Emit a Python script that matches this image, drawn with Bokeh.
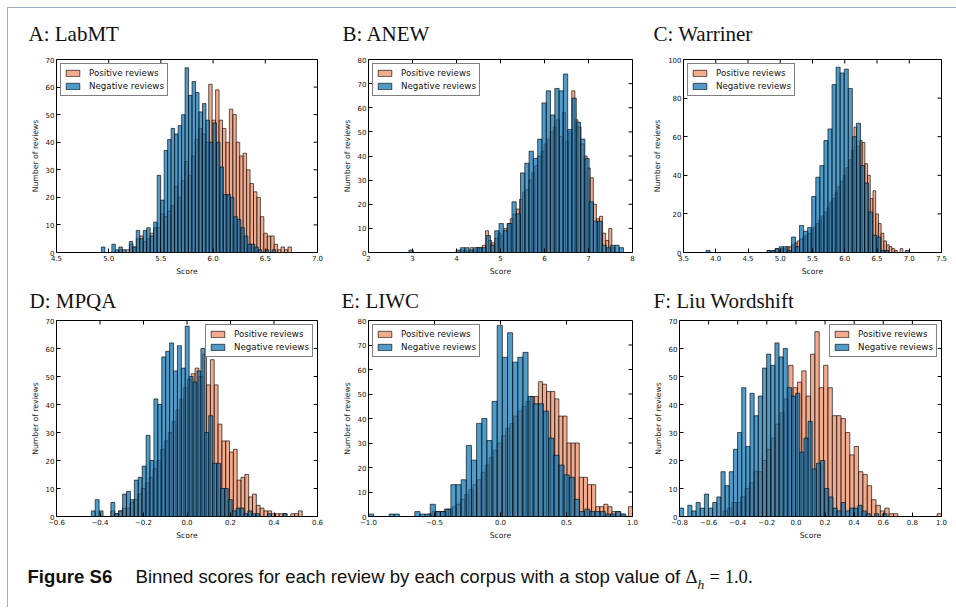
import numpy as np
from bokeh.plotting import figure
from bokeh.models import FixedTicker, Range1d, Label
from bokeh.layouts import row, column
from bokeh.embed import file_html
from bokeh.resources import INLINE

# ---------------- data ----------------
labmt_pos_range = [5.10, 6.75]
labmt_pos = [1, 0, 1, 3, 2, 5, 6, 4, 5, 7, 9, 9, 14, 13, 15, 17, 24, 20, 26, 33, 28, 35, 41, 45, 43,
             40, 61, 48, 59, 48, 45, 40, 52, 50, 40, 35, 36, 30, 25, 22, 20, 13, 7, 6, 6, 3, 1, 2, 1, 2]
labmt_neg_range = [4.93, 6.60]
labmt_neg = [2, 0, 0, 3, 1, 2, 1, 0, 4, 2, 8, 5, 8, 9, 6, 11, 28, 19, 37, 41, 45, 43, 46, 50, 67,
             57, 62, 58, 51, 54, 48, 40, 47, 40, 31, 21, 21, 20, 13, 12, 9, 6, 3, 3, 2, 1, 0, 1, 0, 1]

anew_pos_range = [4.10, 7.60]
anew_pos = [1, 1, 0, 2, 1, 2, 2, 3, 9, 5, 4, 6, 8, 7, 10, 12, 14, 16, 18, 22, 25, 26, 30, 33, 36,
            40, 42, 45, 47, 50, 52, 55, 48, 58, 46, 50, 67, 55, 52, 45, 40, 35, 31, 20, 14, 15, 8, 5, 10, 2]
anew_neg_range = [2.92, 7.795]
anew_neg = [1, 0, 0, 0, 0, 0, 0, 0, 0, 0, 0, 1, 2, 2, 1, 2, 2, 2, 7, 3, 9, 12, 9, 12, 21,
            16, 33, 37, 42, 39, 47, 62, 67, 57, 68, 67, 74, 51, 64, 54, 47, 39, 21, 13, 13, 3, 2, 3, 3, 2]

warriner_pos_range = [4.80, 6.90]
warriner_pos = [1, 0, 1, 2, 1, 2, 2, 3, 3, 4, 5, 6, 7, 8, 9, 10, 12, 13, 15, 17, 19, 21, 23, 26, 28,
                31, 34, 37, 40, 44, 48, 53, 65, 55, 58, 57, 46, 40, 28, 32, 20, 15, 10, 6, 4, 3, 2, 1, 0, 2]
warriner_neg_range = [3.85, 7.00]
warriner_neg = [1, 0, 0, 0, 0, 0, 0, 0, 0, 0, 0, 0, 0, 0, 0, 1, 1, 2, 3, 3, 1, 8, 3, 14, 11,
                13, 29, 39, 45, 58, 64, 87, 96, 93, 95, 85, 60, 67, 45, 36, 21, 9, 8, 1, 1, 0, 0, 0, 0, 1]

mpqa_pos_range = [-0.35, 0.53]
mpqa_pos = [2, 1, 2, 3, 3, 5, 6, 8, 10, 12, 14, 17, 20, 24, 27, 30, 34, 38, 42, 46, 49, 51, 53, 50, 58,
            47, 56, 47, 33, 27, 27, 23, 24, 13, 14, 15, 7, 8, 4, 3, 2, 2, 1, 1, 1, 1, 0, 1, 1, 2]
mpqa_neg_range = [-0.44, 0.46]
mpqa_neg = [2, 6, 2, 0, 0, 5, 1, 2, 8, 9, 6, 13, 14, 18, 29, 20, 42, 40, 57, 59, 62, 52, 61, 53, 68,
            50, 48, 52, 60, 30, 36, 19, 19, 10, 10, 6, 2, 3, 3, 1, 2, 1, 1, 0, 0, 1, 0, 0, 0, 1]

liwc_pos_range = [-0.55, 1.00]
liwc_pos = [1, 2, 2, 2, 3, 3, 4, 5, 7, 9, 11, 13, 15, 18, 21, 24, 27, 30, 33, 36, 38, 41, 43, 45, 47,
            49, 49, 55, 54, 51, 51, 48, 41, 41, 30, 30, 30, 16, 16, 13, 13, 4, 4, 5, 4, 2, 2, 1, 0, 4]
liwc_neg_range = [-1.00, 0.95]
liwc_neg = [1, 0, 0, 0, 1, 1, 0, 0, 0, 2, 1, 1, 5, 2, 2, 3, 13, 13, 15, 29, 23, 38, 40, 31, 47,
            78, 65, 75, 63, 65, 67, 49, 46, 46, 43, 32, 25, 21, 17, 16, 7, 2, 3, 2, 2, 2, 1, 1, 2, 1]

liu_pos_range = [-0.50, 1.00]
liu_pos = [2, 3, 5, 5, 7, 10, 12, 16, 16, 20, 24, 28, 33, 37, 42, 54, 46, 48, 52, 43, 58, 66, 46, 54, 46,
           36, 36, 35, 30, 22, 25, 16, 15, 11, 6, 4, 2, 3, 1, 1, 0, 0, 0, 0, 0, 0, 0, 0, 0, 1]
liu_neg_range = [-0.80, 0.625]
liu_neg = [3, 0, 4, 2, 5, 3, 8, 3, 5, 7, 16, 11, 16, 24, 30, 46, 25, 44, 36, 43, 53, 58, 54, 62, 57,
           60, 46, 43, 44, 23, 28, 34, 17, 19, 20, 10, 7, 3, 2, 5, 2, 3, 3, 4, 2, 1, 0, 1, 0, 1]

titles = ["A: LabMT", "B: ANEW", "C: Warriner", "D: MPQA", "E: LIWC", "F: Liu Wordshift"]
series_labels = ["Positive reviews", "Negative reviews"]
x_label = "Score"
y_label = "Number of reviews"

labmt_xticks = [4.5, 5.0, 5.5, 6.0, 6.5, 7.0]
labmt_xlabels = ["4.5", "5.0", "5.5", "6.0", "6.5", "7.0"]
anew_xticks = [2, 3, 4, 5, 6, 7, 8]
anew_xlabels = ["2", "3", "4", "5", "6", "7", "8"]
warriner_xticks = [3.5, 4.0, 4.5, 5.0, 5.5, 6.0, 6.5, 7.0, 7.5]
warriner_xlabels = ["3.5", "4.0", "4.5", "5.0", "5.5", "6.0", "6.5", "7.0", "7.5"]
mpqa_xticks = [-0.6, -0.4, -0.2, 0.0, 0.2, 0.4, 0.6]
mpqa_xlabels = ["\u22120.6", "\u22120.4", "\u22120.2", "0.0", "0.2", "0.4", "0.6"]
liwc_xticks = [-1.0, -0.5, 0.0, 0.5, 1.0]
liwc_xlabels = ["\u22121.0", "\u22120.5", "0.0", "0.5", "1.0"]
liu_xticks = [-0.8, -0.6, -0.4, -0.2, 0.0, 0.2, 0.4, 0.6, 0.8, 1.0]
liu_xlabels = ["\u22120.8", "\u22120.6", "\u22120.4", "\u22120.2", "0.0", "0.2", "0.4", "0.6", "0.8", "1.0"]

yticks_70 = [0, 10, 20, 30, 40, 50, 60, 70]
yticks_80 = [0, 10, 20, 30, 40, 50, 60, 70, 80]
yticks_100 = [0, 20, 40, 60, 80, 100]

caption_bold = "Figure S6"
caption_text = "Binned scores for each review by each corpus with a stop value of"
caption_math = ["\u0394", "h", "= 1.0."]

# ---------------- styling ----------------
POS_COLOR = "#ef8a62"
NEG_COLOR = "#0571b0"
TICK_FONT = "DejaVu Sans"
SERIF = "Liberation Serif"
TICK_LEN = 4  # px
FULL_W = 948


def blank_strip(width, height):
    """An empty SVG canvas whose data units equal pixels (for panel titles and caption)."""
    s = figure(width=width, height=height, output_backend="svg", toolbar_location=None,
               title_location=None, x_axis_location=None, y_axis_location=None,
               x_range=Range1d(0, width), y_range=Range1d(0, height), min_border=0)
    s.outline_line_color = None
    s.xgrid.visible = False
    s.ygrid.visible = False
    s.background_fill_color = "white"
    s.border_fill_color = "white"
    return s


def style_axis(ax, ticks, labels=None):
    ax.ticker = FixedTicker(ticks=ticks)
    ax.major_tick_in = TICK_LEN
    ax.major_tick_out = 0
    ax.minor_tick_in = 0
    ax.minor_tick_out = 0
    ax.major_tick_line_color = "black"
    ax.major_tick_line_width = 1
    ax.axis_line_color = None
    ax.major_label_text_font = TICK_FONT
    ax.major_label_text_color = "#111111"
    if labels is not None:
        ax.major_label_overrides = {t: l for t, l in zip(ticks, labels)}
    ax.major_label_text_font_size = "7px"
    ax.major_label_standoff = 2
    ax.axis_label_text_font = TICK_FONT
    ax.axis_label_text_font_size = "7.7px"
    ax.axis_label_text_font_style = "normal"
    ax.axis_label_text_color = "#222222"
    ax.axis_label_standoff = 3


def panel(pos, pos_rng, neg, neg_rng, xr, yr, xticks, xlabels, yticks, legend_loc,
          width, height, mbl, mbr, mbt, mbb):
    p = figure(width=width, height=height, output_backend="svg", toolbar_location=None,
               title_location=None,
               x_range=Range1d(*xr), y_range=Range1d(*yr),
               min_border_left=mbl, min_border_right=mbr,
               min_border_top=mbt, min_border_bottom=mbb)
    p.outline_line_color = "black"
    p.outline_line_width = 1
    p.xgrid.visible = False
    p.ygrid.visible = False
    p.background_fill_color = "white"
    p.border_fill_color = "white"

    pe = np.linspace(pos_rng[0], pos_rng[1], len(pos) + 1)
    ne = np.linspace(neg_rng[0], neg_rng[1], len(neg) + 1)
    p.quad(left=pe[:-1], right=pe[1:], bottom=0, top=pos, fill_color=POS_COLOR,
           fill_alpha=0.72, line_color="black", line_alpha=0.7, line_width=0.9,
           legend_label=series_labels[0])
    p.quad(left=ne[:-1], right=ne[1:], bottom=0, top=neg, fill_color=NEG_COLOR,
           fill_alpha=0.7, line_color="black", line_alpha=0.7, line_width=0.9,
           legend_label=series_labels[1])

    style_axis(p.xaxis[0], xticks, xlabels)
    style_axis(p.yaxis[0], yticks)
    p.xaxis[0].axis_label = x_label
    p.yaxis[0].axis_label = y_label

    # inward ticks on the top and right frame edges (matplotlib classic style)
    frame_w = width - mbl - mbr
    frame_h = height - mbt - mbb
    dy = (yr[1] - yr[0]) * TICK_LEN / frame_h
    dx = (xr[1] - xr[0]) * TICK_LEN / frame_w
    xt = np.array(xticks, dtype=float)
    yt = np.array(yticks, dtype=float)
    p.segment(x0=xt, x1=xt, y0=np.full(len(xt), yr[1]), y1=np.full(len(xt), yr[1] - dy),
              line_color="black", line_width=1)
    p.segment(x0=np.full(len(yt), xr[1]), x1=np.full(len(yt), xr[1] - dx), y0=yt, y1=yt,
              line_color="black", line_width=1)

    lg = p.legend[0]
    lg.location = legend_loc
    lg.label_text_font = TICK_FONT
    lg.label_text_font_size = "8.7px"
    lg.label_text_color = "#111111"
    lg.border_line_color = "black"
    lg.border_line_width = 1
    lg.background_fill_alpha = 1.0
    lg.margin = 4
    lg.padding = 3
    lg.spacing = 1
    lg.glyph_width = 17
    lg.glyph_height = 8
    lg.label_height = 12
    lg.label_standoff = 8
    return p


def title_strip(height, names, xs, base):
    s = blank_strip(FULL_W, height)
    for name, x in zip(names, xs):
        s.add_layout(Label(x=x, y=base, text=name, text_font=SERIF, text_font_size="21px",
                           text_color="#111111", text_baseline="alphabetic", text_align="left"))
    return s


pA = panel(labmt_pos, labmt_pos_range, labmt_neg, labmt_neg_range, (4.5, 7.0), (0, 70),
           labmt_xticks, labmt_xlabels, yticks_70, "top_left", 322, 235, 48, 13, 7, 33)
pB = panel(anew_pos, anew_pos_range, anew_neg, anew_neg_range, (2, 8), (0, 80),
           anew_xticks, anew_xlabels, yticks_80, "top_left", 315, 235, 38, 13, 3, 33)
pC = panel(warriner_pos, warriner_pos_range, warriner_neg, warriner_neg_range, (3.5, 7.5), (0, 100),
           warriner_xticks, warriner_xlabels, yticks_100, "top_left", 311, 235, 38, 15, 9, 33)
pD = panel(mpqa_pos, mpqa_pos_range, mpqa_neg, mpqa_neg_range, (-0.6, 0.6), (0, 70),
           mpqa_xticks, mpqa_xlabels, yticks_70, "top_right", 322, 245, 48, 13, 5, 44)
pE = panel(liwc_pos, liwc_pos_range, liwc_neg, liwc_neg_range, (-1.0, 1.0), (0, 80),
           liwc_xticks, liwc_xlabels, yticks_80, "top_left", 315, 245, 38, 13, 5, 44)
pF = panel(liu_pos, liu_pos_range, liu_neg, liu_neg_range, (-0.8, 1.0), (0, 70),
           liu_xticks, liu_xlabels, yticks_70, "top_right", 311, 245, 34, 15, 5, 44)

titles_top = title_strip(42, titles[:3], [20, 334, 645], 17)
titles_bottom = title_strip(30, titles[3:], [21, 333, 645], 15)

# caption strip (SVG text)
cap = blank_strip(FULL_W, 47)
cap.add_layout(Label(x=19, y=21, text=caption_bold, text_font="Liberation Sans",
                     text_font_size="18.6px", text_font_style="bold", text_color="#111111"))
cap.add_layout(Label(x=127, y=21, text=caption_text, text_font="Liberation Sans",
                     text_font_size="18.6px", text_color="#111111"))
cap.add_layout(Label(x=677, y=21, text=caption_math[0], text_font=SERIF,
                     text_font_size="18.6px", text_color="#111111"))
cap.add_layout(Label(x=689, y=16, text=caption_math[1], text_font=SERIF,
                     text_font_size="13.5px", text_font_style="italic", text_color="#111111"))
cap.add_layout(Label(x=701, y=21, text=caption_math[2], text_font=SERIF,
                     text_font_size="18.6px", text_color="#111111"))

layout = column(titles_top, row(pA, pB, pC, spacing=0),
                titles_bottom, row(pD, pE, pF, spacing=0), cap, spacing=0,
                margin=(7, 0, 0, 7),
                styles={"border-left": "1px solid #9fb0c4", "border-top": "1px solid #9fb0c4"})

open("out.html", "w").write(file_html(layout, INLINE))
